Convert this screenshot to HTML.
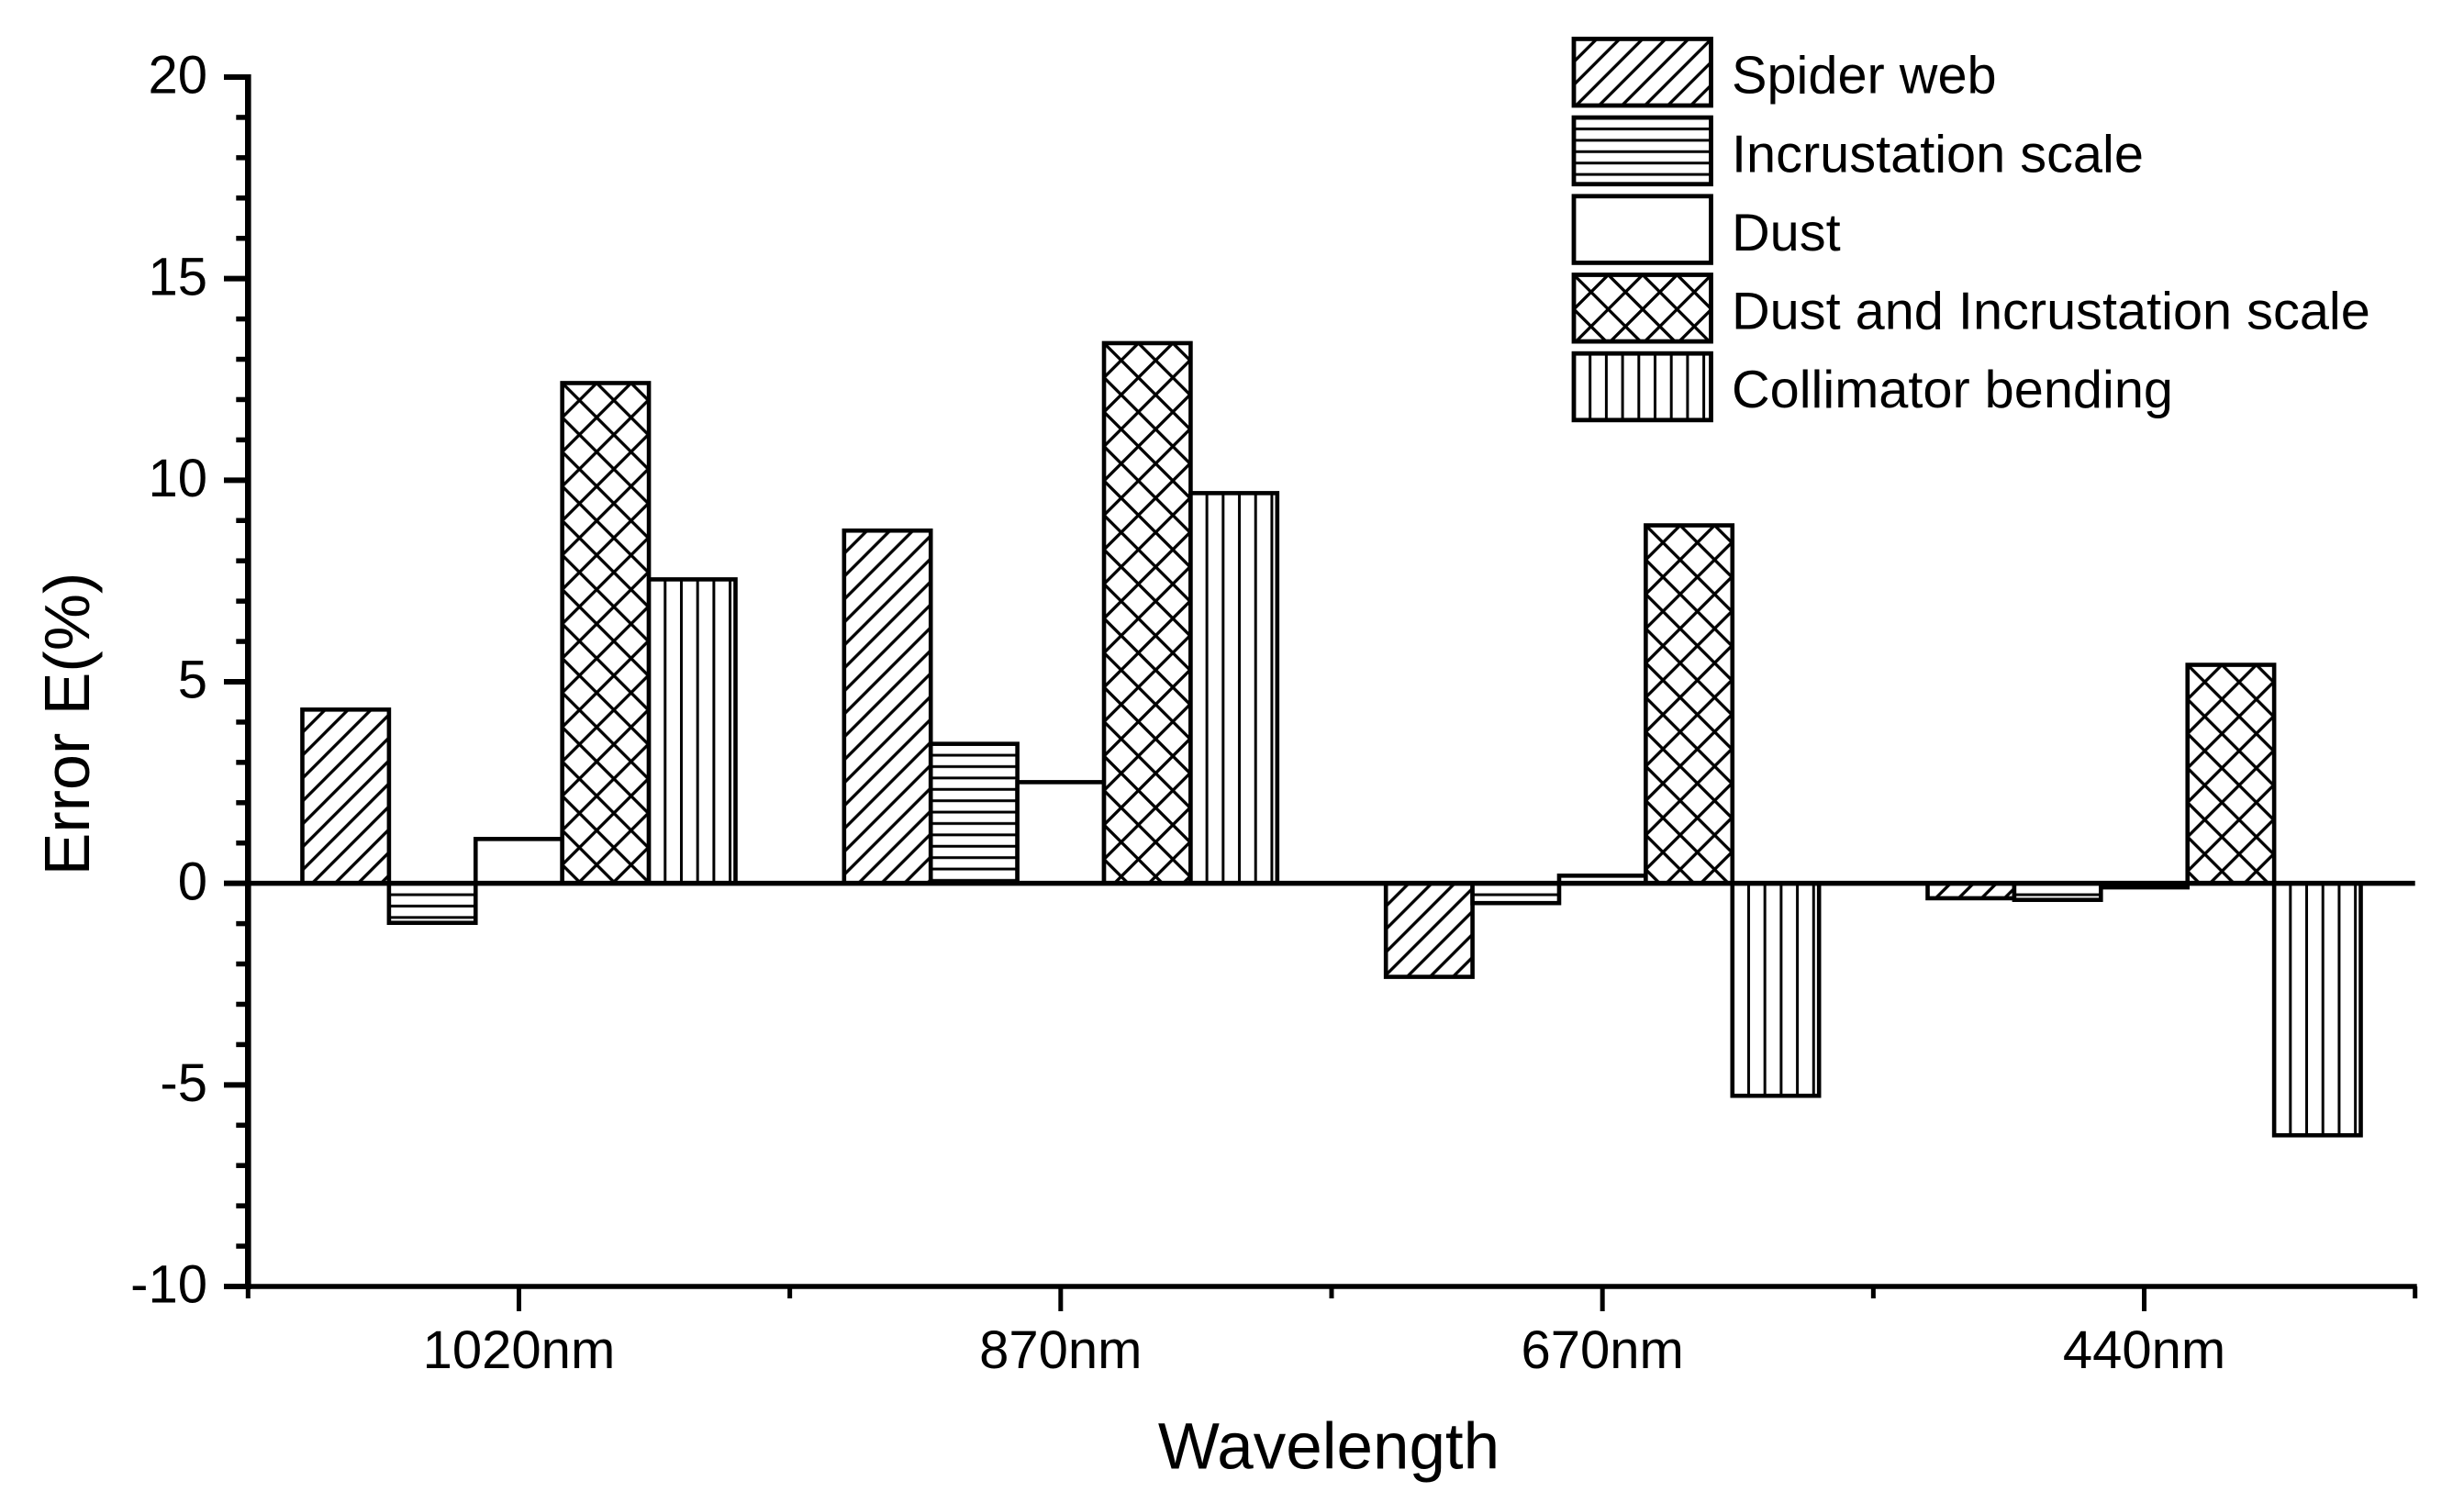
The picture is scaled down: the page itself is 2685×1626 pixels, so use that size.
<!DOCTYPE html>
<html lang="en">
<head>
<meta charset="utf-8">
<title>Error E(%) by wavelength</title>
<style>
html,body{margin:0;padding:0;background:#fff;}
svg{display:block;}
text{font-family:"Liberation Sans",Arial,sans-serif;fill:#000;}
</style>
</head>
<body>
<svg id="chart" xmlns="http://www.w3.org/2000/svg" width="2685" height="1626" viewBox="0 0 2685 1626">
<rect x="0" y="0" width="2685" height="1626" fill="#fff"/>
<defs id="defs"></defs>
<g id="bars"></g>
<g id="axes"></g>
<g id="legend"></g>
<text transform="translate(97 789) rotate(-90)" text-anchor="middle" font-size="70">Error E(%)</text>
<text x="1448" y="1600.7" text-anchor="middle" font-size="71">Wavelength</text>
</svg>
<script>
const categories = ['1020nm', '870nm', '670nm', '440nm'];
const seriesNames = ['Spider web', 'Incrustation scale', 'Dust', 'Dust and Incrustation scale', 'Collimator bending'];
const seriesHatch = ['diagonal', 'horizontal', 'none', 'cross', 'vertical'];
const spiderWeb = [4.31, 8.75, -2.32, -0.37];
const incrustationScale = [-0.98, 3.46, -0.49, -0.41];
const dust = [1.10, 2.51, 0.19, -0.10];
const dustAndIncrustation = [12.41, 13.40, 8.88, 5.42];
const collimatorBending = [7.54, 9.68, -5.27, -6.25];
const seriesValues = [spiderWeb, incrustationScale, dust, dustAndIncrustation, collimatorBending];
const yMajorTicks = [-10, -5, 0, 5, 10, 15, 20];
const yMinorTicks = [-9, -8, -7, -6, -4, -3, -2, -1, 1, 2, 3, 4, 6, 7, 8, 9, 11, 12, 13, 14, 16, 17, 18, 19];

const NS = 'http://www.w3.org/2000/svg';
const plotLeft = 270.3, plotRight = 2631.7, plotTop = 84, plotBottom = 1402;
const yMin = -10, yMax = 20;
const groupWidth = (plotRight - plotLeft) / categories.length;
const barWidth = 94.4;

function yScale(v) {
  return plotBottom - (v - yMin) / (yMax - yMin) * (plotBottom - plotTop);
}
function xCenter(i) {
  return plotLeft + groupWidth * (i + 0.5);
}
function xBar(i, j) {
  return xCenter(i) - barWidth * seriesNames.length / 2 + j * barWidth;
}
function make(tag, attrs, parent) {
  const el = document.createElementNS(NS, tag);
  for (const k in attrs) el.setAttribute(k, attrs[k]);
  parent.appendChild(el);
  return el;
}
function slug(s) {
  return s.toLowerCase().replace(/\s+/g, '-');
}

const defs = document.getElementById('defs');
let patternCount = 0;
function hatchFill(kind, x, y) {
  if (kind === 'none') return '#fff';
  const id = 'hatch' + (patternCount++);
  const common = {id: id, patternUnits: 'userSpaceOnUse'};
  let w, h, px = x, py = y, d, sw = 3.3;
  if (kind === 'diagonal') {
    w = h = 25;
    d = 'M-3 28L28 -3M-3 3L3 -3M22 28L28 22';
  } else if (kind === 'horizontal') {
    w = 20; h = 12.4; py = y + 6.2;
    d = 'M-1 6.2H21';
    sw = 3;
  } else if (kind === 'vertical') {
    w = 17.7; h = 20; px = x + 8.85;
    d = 'M8.85 -1V21';
    sw = 3;
  } else {
    w = h = 37.5;
    d = 'M-2 -2L39.5 39.5M-2 39.5L39.5 -2';
  }
  const p = make('pattern', Object.assign(common, {x: px, y: py, width: w, height: h}), defs);
  make('rect', {x: 0, y: 0, width: w, height: h, fill: '#fff'}, p);
  make('path', {d: d, stroke: '#000', 'stroke-width': sw, fill: 'none'}, p);
  return 'url(#' + id + ')';
}

// bars
const barsG = document.getElementById('bars');
seriesValues.forEach(function (values, j) {
  values.forEach(function (v, i) {
    const x = xBar(i, j);
    const top = Math.min(yScale(v), yScale(0));
    const h = Math.abs(yScale(v) - yScale(0));
    const bar = make('rect', {x: x, y: top, width: barWidth, height: h,
      fill: hatchFill(seriesHatch[j], x, top), stroke: '#000', 'stroke-width': 4.6}, barsG);
    
    
  });
});

// axes
const axesG = document.getElementById('axes');
const zeroLine = make('line', {x1: plotLeft, x2: plotRight, y1: yScale(0), y2: yScale(0), stroke: '#000', 'stroke-width': 5.5}, axesG);



const yAxisLine = make('line', {x1: plotLeft, x2: plotLeft, y1: plotTop - 3, y2: plotBottom + 3, stroke: '#000', 'stroke-width': 6.6}, axesG);



const xAxisLine = make('line', {x1: plotLeft, x2: plotRight + 2, y1: plotBottom, y2: plotBottom, stroke: '#000', 'stroke-width': 5.6}, axesG);



yMajorTicks.forEach(function (v) {
  const t = make('line', {x1: 244, x2: plotLeft, y1: yScale(v), y2: yScale(v), stroke: '#000', 'stroke-width': 6}, axesG);
  
  
  const label = make('text', {x: 226, y: yScale(v) + 17.7, 'text-anchor': 'end', 'font-size': 58}, axesG);
  label.textContent = String(v);
  
  
});
yMinorTicks.forEach(function (v) {
  const t = make('line', {x1: 257.3, x2: plotLeft, y1: yScale(v), y2: yScale(v), stroke: '#000', 'stroke-width': 5.5}, axesG);
  
  
});
categories.forEach(function (c, i) {
  const t = make('line', {x1: xCenter(i), x2: xCenter(i), y1: plotBottom, y2: 1429, stroke: '#000', 'stroke-width': 5}, axesG);
  
  
  const label = make('text', {x: xCenter(i), y: 1491, 'text-anchor': 'middle', 'font-size': 58}, axesG);
  label.textContent = c;
  
  
});
for (let i = 0; i <= categories.length; i++) {
  const mx = plotLeft + groupWidth * i;
  const t = make('line', {x1: mx, x2: mx, y1: plotBottom, y2: 1415, stroke: '#000', 'stroke-width': 5}, axesG);
  
  
}

// legend
const legendG = document.getElementById('legend');
seriesNames.forEach(function (name, j) {
  const top = 42.4 + j * 85.7;
  const box = make('rect', {x: 1715, y: top, width: 149.5, height: 72.6,
    fill: hatchFill(seriesHatch[j], 1715, top), stroke: '#000', 'stroke-width': 4.8}, legendG);
  
  
  const label = make('text', {x: 1887, y: 101.7 + j * 85.6, 'font-size': 57.7}, legendG);
  label.textContent = name;
  
  
});
</script>
</body>
</html>
